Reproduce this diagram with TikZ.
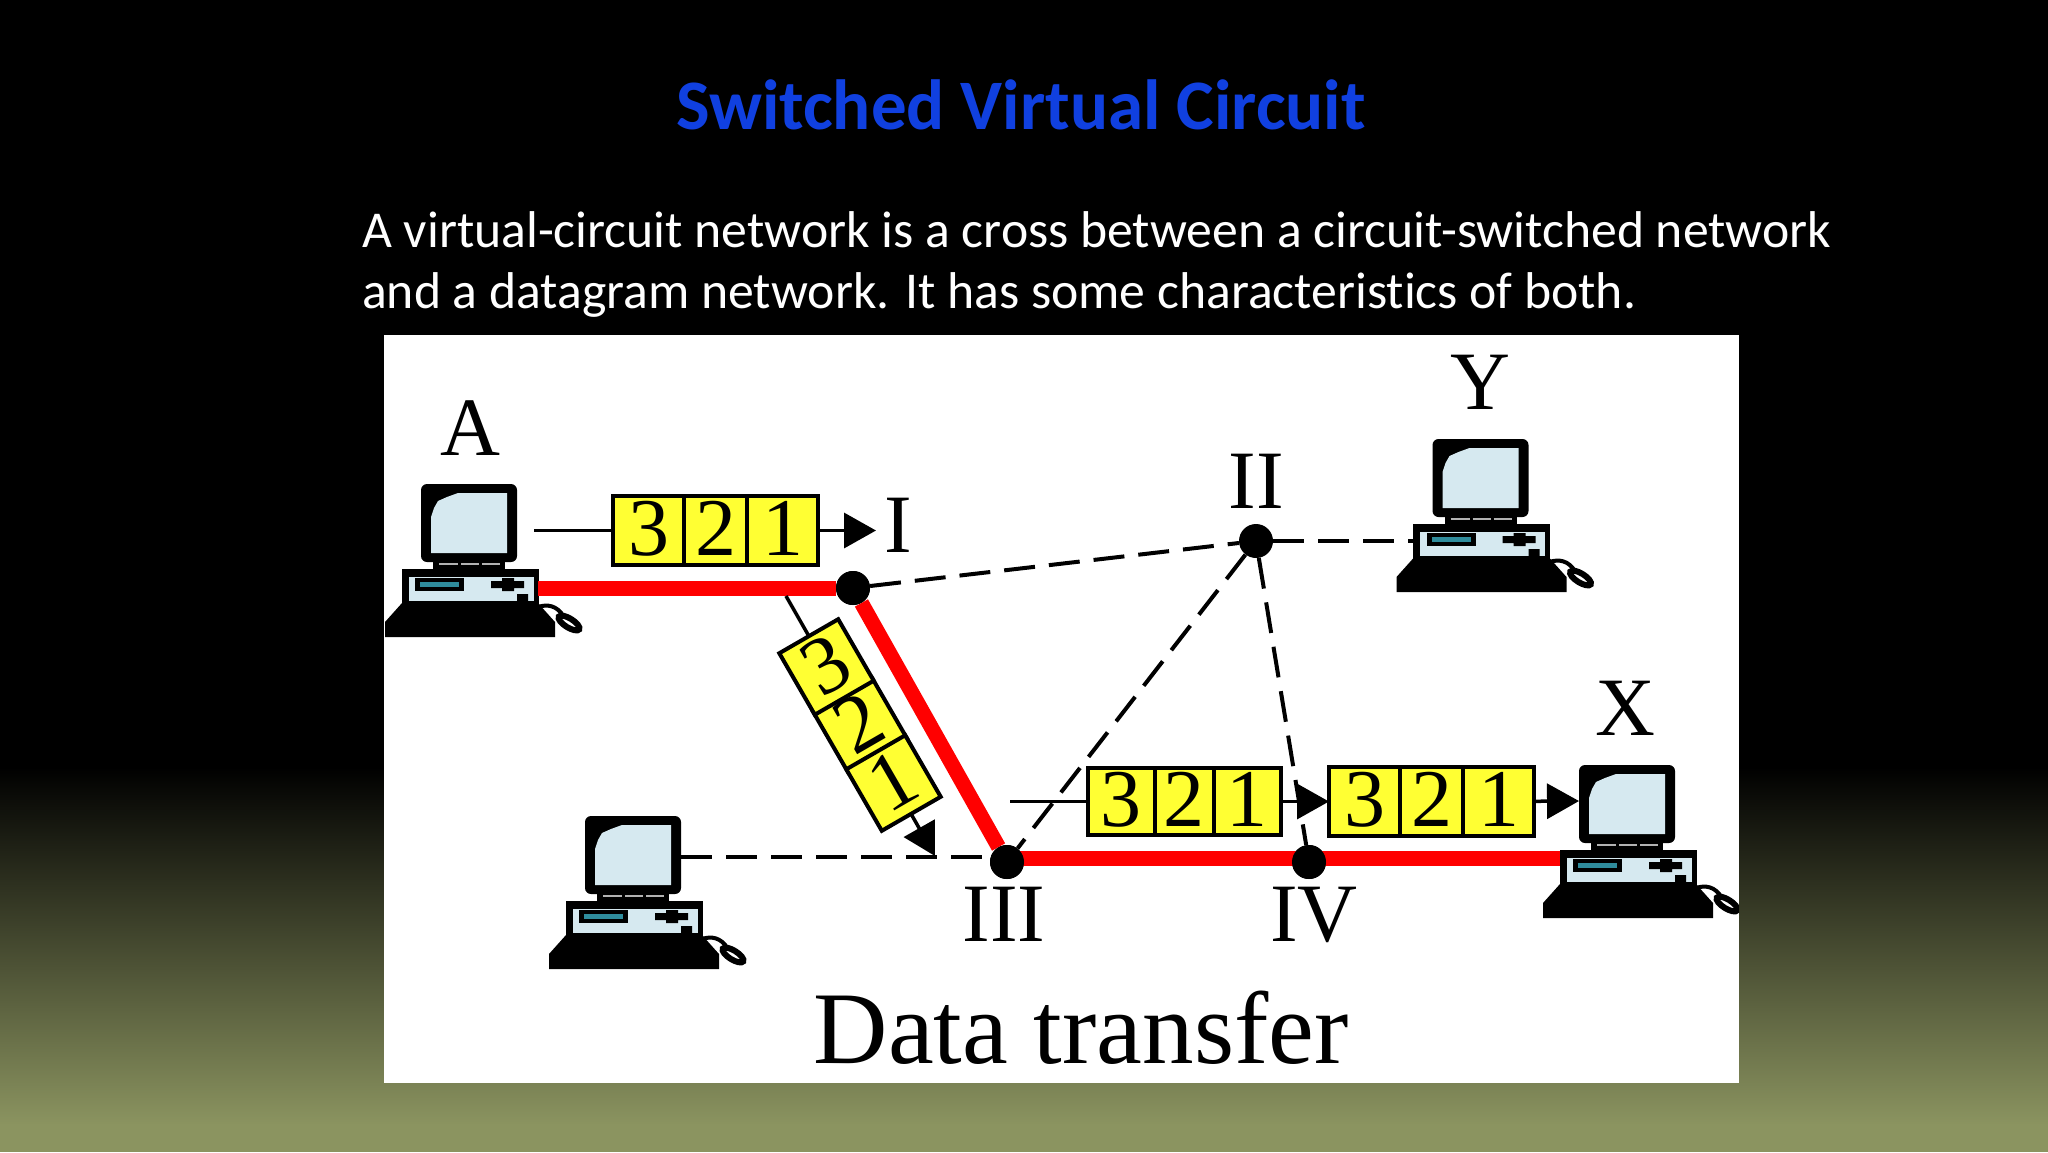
\documentclass[tikz,border=0pt]{standalone}
\usepackage{fontspec}
\setmainfont{Carlito}[Ligatures=NoCommon]
\newfontfamily\figfont{Liberation Serif}
\usetikzlibrary{positioning,arrows.meta}
\definecolor{bgolive}{HTML}{8B9460}
\definecolor{titleblue}{HTML}{1040E0}
\definecolor{screenblue}{HTML}{D6E9F0}
\definecolor{slotteal}{HTML}{2F8C9C}
\definecolor{packetyellow}{HTML}{FFFF33}
\tikzset{
  cell/.style={draw=black,line width=4pt,fill=packetyellow,minimum width=71pt,minimum height=69pt,
    inner sep=0pt,outer sep=0pt,text height=58pt,text depth=9pt,font=\figfont\fontsize{82}{82}\selectfont},
  midcell/.style={cell,minimum width=67pt,minimum height=64pt},
  slantcell/.style={cell,minimum width=68pt,minimum height=71pt},
  switchdot/.style={circle,fill=black,minimum size=34pt,inner sep=0pt},
  figlabel/.style={inner sep=0pt,anchor=base,font=\figfont\fontsize{83}{83}\selectfont},
  redlink/.style={draw=red,line width=15pt},
  dashlink/.style={draw=black,line width=4pt,dash pattern=on 31pt off 14pt},
  flowline/.style={draw=black,line width=3.5pt},
  flow/.style={flowline,-{Triangle[length=32pt,width=35pt]}},
  pcbox/.pic={
    \coordinate (-w) at (-67,65);
    \coordinate (-e) at (69,65);
    \coordinate (-m) at (48,2);
    \coordinate (-l) at (-48,-3);
    \fill[black,rounded corners=6pt] (-48,-39) rectangle (48,39);
    \fill[screenblue] (-11,-30) -- (38,-30) -- (38,30) -- (-38,30) -- (-38,-6) -- (-35,-15) -- (-31,-22) -- (-22,-26) -- cycle;
    \fill[black] (-36,39) rectangle (36,47);
    \draw[gray!60,line width=1.5pt] (-30,41) -- (-11,41) (-8,41) -- (10,41) (13,41) -- (31,41);
    \fill[black] (-67.5,46) rectangle (69.5,86);
    \fill[screenblue] (-60.5,54) rectangle (64.5,78);
    \fill[black] (-54,55) rectangle (-5,68);
    \fill[slotteal] (-49,59) rectangle (-10,64);
    \fill[black] (22,58) rectangle (55,65) (33,55) rectangle (45,68) (48,71) rectangle (59,84);
    \fill[black] (-67,80) -- (69,80) -- (86,99) -- (86,114) -- (-84,114) -- (-84,99) -- cycle;
    \draw[black,line width=4pt] (69,84) .. controls (78,81) and (88,82) .. (95,94);
    \draw[black,line width=6pt,fill=white] (100,100) ellipse [x radius=12pt,y radius=4.5pt,rotate=-32];
  }
}
\begin{document}
\begin{tikzpicture}[x=1pt,y=-1pt]
\useasboundingbox (0,0) rectangle (2048,1152);
\fill[black] (0,0) rectangle (2048,768);
\fill[bgolive] (0,1124) rectangle (2048,1152);
\shade[top color=black,bottom color=bgolive] (0,767) rectangle (2048,1125);
% slide text
\node[inner sep=0pt,anchor=base,text=titleblue,font=\bfseries\fontsize{71}{71}\selectfont] (title) at (1021,129) {Switched Virtual Circuit};
\node[inner sep=0pt,anchor=base west,text=white,font=\fontsize{51.7}{52}\selectfont] (line1) at (362,247) {A virtual-circuit network is a cross between a circuit-switched network};
\node[inner sep=0pt,anchor=base west,text=white,font=\fontsize{51.7}{52}\selectfont] (line2) at (362,308) {and a datagram network. It has some characteristics of both.};
\begin{scope}
\clip (384,335) rectangle (1739,1083);
\fill[white] (384,335) rectangle (1739,1083);
% computers
\pic (pcA) at (469,523) {pcbox};
\pic (pcY) at (1480.5,478) {pcbox};
\pic (pcX) at (1627,804) {pcbox};
\pic (pcL) at (633,855) {pcbox};
% switches
\node[switchdot] (I) at (853,588) {};
\node[switchdot] (II) at (1256,541) {};
\node[switchdot] (III) at (1007,862) {};
\node[switchdot] (IV) at (1309,862) {};
% links
\draw[dashlink] (I) -- (II);
\draw[dashlink] (II) -- (III);
\draw[dashlink] (II) -- (IV);
\draw[dashlink] (II) -- (II -| pcY-w);
\draw[dashlink] (pcL-m) -- (pcL-m -| III);
\draw[redlink] (I) -- (I -| pcA-e);
\draw[redlink] (I) -- (III);
\draw[redlink] ([yshift=4pt]III.center) -- ([yshift=4pt]IV.center);
\draw[redlink] ([yshift=4pt]IV.center) -- ([yshift=4pt]IV.center -| pcX-w);
\node[switchdot] at (I) {};
\node[switchdot] at (III) {};
\node[switchdot] at (IV) {};
% packets
\node[cell] (p1b) at (715.5,530.5) {2};
\node[cell,left=-4pt of p1b] (p1a) {3};
\node[cell,right=-4pt of p1b] (p1c) {1};
\node[midcell] (p2b) at (1184,801.5) {2};
\node[midcell,left=-4pt of p2b] (p2a) {3};
\node[midcell,right=-4pt of p2b] (p2c) {1};
\node[cell] (p3b) at (1431.5,801.5) {2};
\node[cell,left=-4pt of p3b] (p3a) {3};
\node[cell,right=-4pt of p3b] (p3c) {1};
\begin{scope}[shift={(860,725)},rotate=30,transform shape]
\node[slantcell] (p4b) at (0,0) {2};
\node[slantcell,above=-4pt of p4b] (p4a) {3};
\node[slantcell,below=-4pt of p4b] (p4c) {1};
\end{scope}
% flows
\coordinate (f1) at (534,530.5);
\coordinate (f2) at (876,530.5);
\coordinate (f3) at (786,596);
\coordinate (f4) at (935,856);
\coordinate (f5) at (1010,801.5);
\draw[flowline] (f1) -- (p1a);
\draw[flow] (p1c) -- (f2);
\draw[flowline] (f3) -- (p4a);
\draw[flow] (p4c) -- (f4);
\draw[flowline] (f5) -- (p2a);
\draw[flow] (p2c) -- (p3a);
\draw[flow] (p3c) -- (pcX-l);
% labels
\node[figlabel] (labA) at (470,455) {A};
\node[figlabel] (labI) at (898,552) {I};
\node[figlabel] (labII) at (1256,508) {II};
\node[figlabel] (labY) at (1480,409) {Y};
\node[figlabel] (labX) at (1625,735) {X};
\node[figlabel] (labIII) at (1004,941) {III};
\node[figlabel] (labIV) at (1314,941) {IV};
\node[figlabel,font=\figfont\fontsize{103}{103}\selectfont] (caption) at (1081,1063) {Data transfer};
\end{scope}
\end{tikzpicture}
\end{document}
